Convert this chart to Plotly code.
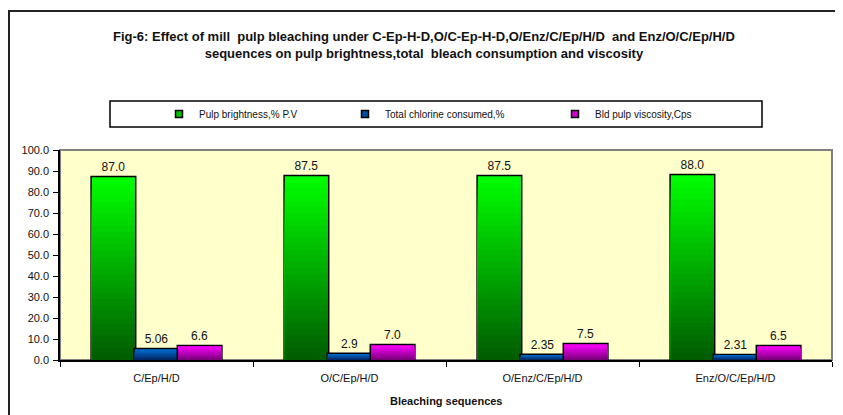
import plotly.graph_objects as go

# ---------------- data ----------------
categories = ["C/Ep/H/D", "O/C/Ep/H/D", "O/Enz/C/Ep/H/D", "Enz/O/C/Ep/H/D"]
brightness = [87.0, 87.5, 87.5, 88.0]
chlorine = [5.06, 2.9, 2.35, 2.31]
viscosity = [6.6, 7.0, 7.5, 6.5]
brightness_labels = ["87.0", "87.5", "87.5", "88.0"]
chlorine_labels = ["5.06", "2.9", "2.35", "2.31"]
viscosity_labels = ["6.6", "7.0", "7.5", "6.5"]
series_names = ["Pulp brightness,% P.V", "Total chlorine consumed,%", "Bld pulp viscosity,Cps"]
y_ticks = [0, 10, 20, 30, 40, 50, 60, 70, 80, 90, 100]
y_tick_labels = ["0.0", "10.0", "20.0", "30.0", "40.0", "50.0", "60.0", "70.0", "80.0", "90.0", "100.0"]
title_text = ("<b>Fig-6: Effect of mill  pulp bleaching under C-Ep-H-D,O/C-Ep-H-D,O/Enz/C/Ep/H/D  and Enz/O/C/Ep/H/D</b>"
              "<br><b>sequences on pulp brightness,total  bleach consumption and viscosity</b>")
x_title = "<b>Bleaching sequences</b>"

# ---------------- styling ----------------
OFF = 8  # default page body margin
W, H = 843 - OFF, 415 - OFF
L, R, T, B = 60 - OFF, 832 - OFF, 150 - OFF, 360 - OFF
FONT = "Liberation Sans, Arial, sans-serif"

def px_x(p):  # p = page pixel of the reference picture
    return (p - OFF - L) / (R - L)

def px_y(p):
    return (B - (p - OFF)) / (B - T)

# (top colour, bottom colour, legend/mid colour)
grad = [
    ((0, 255, 0), (0, 90, 0), "#00c000"),
    ((0, 110, 210), (0, 40, 100), "#0050a0"),
    ((255, 0, 255), (120, 0, 120), "#d000d0"),
]
series_vals = [brightness, chlorine, viscosity]
series_labels = [brightness_labels, chlorine_labels, viscosity_labels]
legend_ids = ["legend", "legend2", "legend3"]
legend_px = [159, 345, 555]
N = 30

def mix(c1, c2, t):
    return "rgb(%d,%d,%d)" % tuple(round(c2[i] + (c1[i] - c2[i]) * t) for i in range(3))

fig = go.Figure()
for s in range(3):
    top, bot, mid = grad[s]
    vals = series_vals[s]
    # outline / label trace
    fig.add_trace(go.Bar(
        x=categories, y=vals, name=series_names[s], offsetgroup=str(s),
        marker=dict(color=mid, line=dict(color="black", width=3)),
        text=series_labels[s], textposition="outside", cliponaxis=False,
        textfont=dict(family=FONT, size=12, color="#111"),
        showlegend=False, hoverinfo="skip",
    ))
    # gradient fill: nested bars of decreasing height
    for k in range(N):
        frac = (N - k) / N
        t = (N - k - 0.5) / N
        fig.add_trace(go.Bar(
            x=categories, y=[v * frac for v in vals], offsetgroup=str(s),
            marker=dict(color=mix(top, bot, t), line=dict(width=0)),
            showlegend=False, hoverinfo="skip",
        ))
    # legend entry (small square key, no drawn points)
    fig.add_trace(go.Scatter(
        x=categories, y=[None] * len(categories), mode="markers", name=series_names[s],
        marker=dict(symbol="square", size=7, color=mid, line=dict(color="black", width=1.5)),
        legend=legend_ids[s], hoverinfo="skip",
    ))

shapes = [
    # outer chart border (extends past the canvas on right/bottom)
    dict(type="rect", xref="paper", yref="paper", x0=px_x(9), x1=px_x(900),
         y0=px_y(480), y1=px_y(11), line=dict(color="#222", width=2), layer="below"),
    # legend box
    dict(type="rect", xref="paper", yref="paper", x0=px_x(110), x1=px_x(762),
         y0=px_y(127), y1=px_y(101), line=dict(color="black", width=1.5), layer="below"),
    # plot area border
    dict(type="rect", xref="paper", yref="paper", x0=0, x1=1, y0=0, y1=1,
         line=dict(color="#808080", width=2), layer="below"),
]

legend_common = dict(orientation="h", yanchor="middle", xanchor="left",
                     bgcolor="rgba(0,0,0,0)", borderwidth=0,
                     font=dict(family=FONT, size=10, color="#111"))

fig.update_layout(
    width=W, height=H,
    margin=dict(l=L, r=W - R, t=T, b=H - B, pad=0),
    paper_bgcolor="white", plot_bgcolor="#FFFFCC",
    barmode="group", bargap=0.33, bargroupgap=0,
    font=dict(family=FONT, size=11, color="#111"),
    showlegend=True,
    legend=dict(x=px_x(legend_px[0]), y=px_y(114), **legend_common),
    legend2=dict(x=px_x(legend_px[1]), y=px_y(114), **legend_common),
    legend3=dict(x=px_x(legend_px[2]), y=px_y(114), **legend_common),
    xaxis=dict(showline=True, linecolor="black", linewidth=1.5, ticks="outside",
               tickson="boundaries", ticklen=5, tickcolor="black", showgrid=False,
               tickfont=dict(family=FONT, size=11, color="#111"), ticklabelstandoff=7),
    yaxis=dict(range=[0, 100], tickvals=y_ticks, ticktext=y_tick_labels,
               showline=True, linecolor="black", linewidth=1.5, ticks="outside",
               ticklen=5, tickcolor="black", showgrid=False, zeroline=False,
               tickfont=dict(family=FONT, size=11, color="#111"), ticklabelstandoff=2),
    shapes=shapes,
    annotations=[
        dict(text=title_text, xref="paper", yref="paper", x=px_x(424), y=px_y(45),
             xanchor="center", yanchor="middle", showarrow=False, align="center",
             font=dict(family=FONT, size=13, color="#111")),
        dict(text=x_title, xref="paper", yref="paper", x=px_x(446), y=px_y(401),
             xanchor="center", yanchor="middle", showarrow=False,
             font=dict(family=FONT, size=11, color="#111")),
    ],
)

fig.write_html("out.html")
